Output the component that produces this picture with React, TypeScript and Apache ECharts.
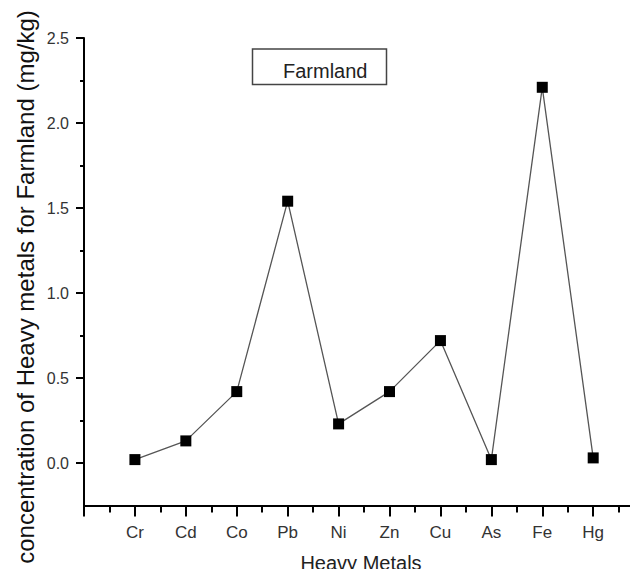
import React, { useEffect, useRef } from "react";
import * as echarts from "echarts";

const categories = ["Cr", "Cd", "Co", "Pb", "Ni", "Zn", "Cu", "As", "Fe", "Hg"];
const values = [0.02, 0.13, 0.42, 1.54, 0.23, 0.42, 0.72, 0.02, 2.21, 0.03];
const yMajorTicks = [0, 0.5, 1.0, 1.5, 2.0, 2.5];
const yMinorTicks = [0.25, 0.75, 1.25, 1.75, 2.25];
const xMajorTicks = [0, 1, 2, 3, 4, 5, 6, 7, 8, 9, 10];
const xMinorTicks = [0.5, 1.5, 2.5, 3.5, 4.5, 5.5, 6.5, 7.5, 8.5, 9.5, 10.5];
const xLabelPositions = categories.map((_, i) => i + 1);
const seriesName = "Farmland";

const FONT = "'Liberation Sans', Arial, sans-serif";

export default function App() {
  const ref = useRef<HTMLDivElement>(null);
  useEffect(() => {
    if (!ref.current) return;
    const chart = echarts.init(ref.current, null, { renderer: "svg" });
    const data = values.map((v, i) => [i + 1, v]);
    const xCommon = {
      type: "value",
      min: 0,
      max: 10.88,
      position: "bottom",
      splitLine: { show: false },
    };
    const yCommon = {
      type: "value",
      min: -0.25,
      max: 2.5,
      position: "left",
      splitLine: { show: false },
    };
    chart.setOption({
      animation: false,
      backgroundColor: "#ffffff",
      grid: {
        left: 84,
        right: 0,
        top: 38,
        bottom: 71.5,
        containLabel: false,
        outerBoundsMode: "none",
      },
      xAxis: [
        {
          ...xCommon,
          name: "Heavy Metals",
          nameLocation: "middle",
          nameGap: 47,
          nameTextStyle: { fontFamily: FONT, fontSize: 20, color: "#222" },
          axisLine: { show: true, onZero: false, lineStyle: { color: "#000", width: 2 } },
          axisTick: {
            show: true,
            customValues: xMajorTicks,
            length: 11,
            lineStyle: { color: "#000", width: 2 },
          },
          axisLabel: {
            show: true,
            customValues: xLabelPositions,
            margin: 18,
            fontFamily: FONT,
            fontSize: 17,
            color: "#333",
            formatter: (v: number) => categories[Math.round(v) - 1] ?? "",
          },
        },
        {
          ...xCommon,
          axisLine: { show: false, onZero: false },
          axisTick: {
            show: true,
            customValues: xMinorTicks,
            length: 7,
            lineStyle: { color: "#000", width: 2 },
          },
          axisLabel: { show: false },
        },
      ],
      yAxis: [
        {
          ...yCommon,
          axisLine: { show: true, onZero: false, lineStyle: { color: "#000", width: 2 } },
          axisTick: {
            show: true,
            customValues: yMajorTicks,
            length: 8,
            lineStyle: { color: "#000", width: 2 },
          },
          axisLabel: {
            show: true,
            customValues: yMajorTicks,
            margin: 15,
            fontFamily: FONT,
            fontSize: 16,
            color: "#333",
            formatter: (v: number) => v.toFixed(1),
          },
        },
        {
          ...yCommon,
          axisLine: { show: false, onZero: false },
          axisTick: {
            show: true,
            customValues: yMinorTicks,
            length: 4,
            lineStyle: { color: "#000", width: 2 },
          },
          axisLabel: { show: false },
        },
      ],
      series: [
        {
          name: seriesName,
          type: "line",
          data,
          xAxisIndex: 0,
          yAxisIndex: 0,
          symbol: "rect",
          symbolSize: 11,
          itemStyle: { color: "#000" },
          lineStyle: { color: "#555", width: 1.3 },
          z: 5,
        },
      ],
      graphic: [
        {
          type: "rect",
          shape: { x: 252.5, y: 49, width: 134, height: 35.5 },
          style: { fill: "#fff", stroke: "#444", lineWidth: 1.5 },
          z: 10,
        },
        {
          type: "text",
          x: 283,
          y: 70.5,
          style: {
            text: seriesName,
            fontFamily: FONT,
            fontSize: 20,
            fill: "#222",
            textAlign: "left",
            textVerticalAlign: "middle",
          },
          z: 11,
        },
        {
          type: "text",
          x: 25,
          y: 287,
          rotation: Math.PI / 2,
          style: {
            text: "concentration of Heavy metals for Farmland (mg/kg)",
            fontFamily: FONT,
            fontSize: 24,
            fill: "#111",
            textAlign: "center",
            textVerticalAlign: "middle",
          },
        },
      ],
    });
    return () => chart.dispose();
  }, []);
  return <div ref={ref} style={{ width: 638, height: 577, margin: -8 }} />;
}
